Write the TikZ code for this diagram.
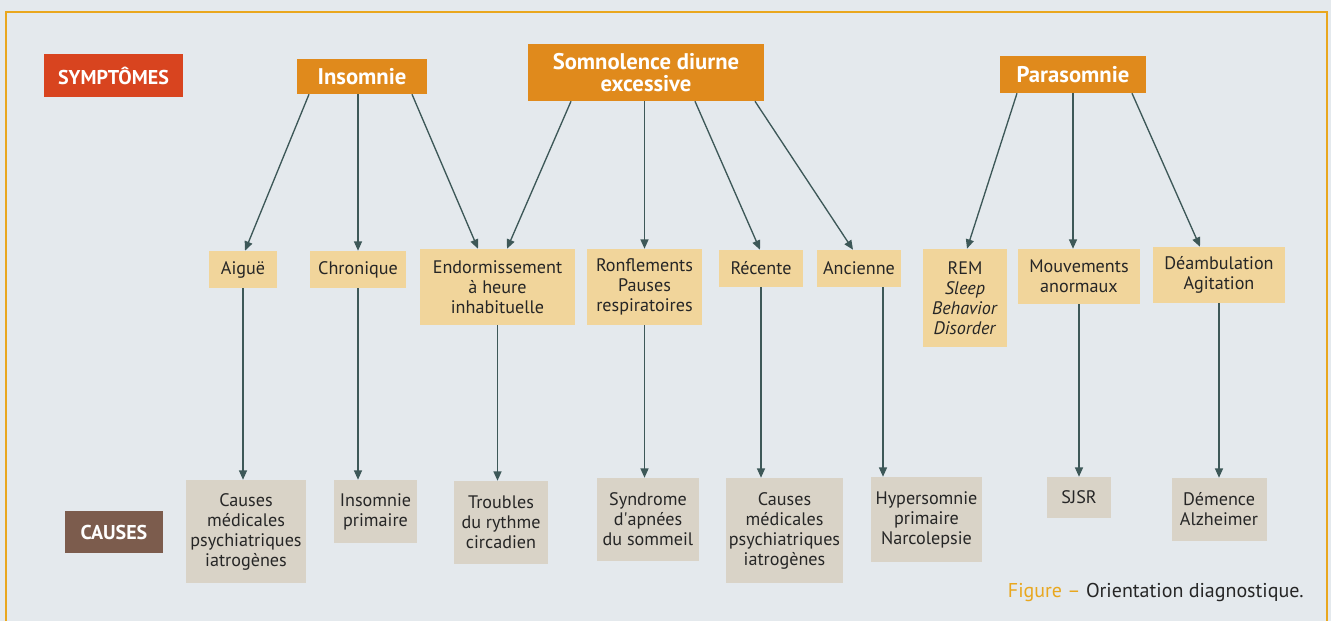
\documentclass[tikz,border=0pt]{standalone}
\usepackage{fontspec}
\setmainfont{PT Sans}
\usetikzlibrary{arrows.meta,calc}
\definecolor{pagebg}{HTML}{E4E9ED}
\definecolor{framey}{HTML}{E9A71E}
\definecolor{sympred}{HTML}{D8441F}
\definecolor{sympor}{HTML}{E08A1C}
\definecolor{signbg}{HTML}{F1D59B}
\definecolor{causebg}{HTML}{D9D3C7}
\definecolor{causebr}{HTML}{7C5C4D}
\definecolor{arrowc}{HTML}{3D5858}
\definecolor{inkc}{HTML}{262626}

\begin{document}
\begin{tikzpicture}[x=0.75pt,y=-0.75pt,
  boxsz/.style 2 args={minimum width=#1*0.75pt,minimum height=#2*0.75pt},
  head/.style={fill=sympor,text=white,inner sep=0pt,align=center,
    font=\fontsize{17}{17}\selectfont\bfseries},
  sign/.style={fill=signbg,text=inkc,inner sep=0pt,align=center,
    font=\fontsize{13.6}{15}\selectfont},
  cause/.style={sign,fill=causebg},
  tag/.style={inner sep=0pt,text=white,font=\fontsize{15}{15}\selectfont\bfseries},
  flow/.style={-{Triangle[length=7pt,width=6pt]},line width=1pt,draw=arrowc}
]
  \useasboundingbox (0,0) rectangle (1331,621);
  \fill[pagebg] (0,0) rectangle (1331,621);
  \draw[framey,line width=1.8pt] (6,621) -- (6,12) -- (1327,12) -- (1327,621);

  \node[tag,fill=sympred,boxsz={139}{43}] (symp) at (113.5,75.5) {SYMPTÔMES};
  \node[head,boxsz={130}{35}] (insom) at (362,76.5) {Insomnie};
  \node[head,boxsz={236}{57}] (somno) at (646,72.5) {Somnolence diurne\\excessive};
  \node[head,boxsz={146}{37}] (paras) at (1073,74.5) {Parasomnie};

  \node[sign,boxsz={68}{37}] (aigue) at (243,269.5) {Aiguë};
  \node[sign,boxsz={96}{37}] (chron) at (358,269.5) {Chronique};
  \node[sign,boxsz={155}{76}] (endor) at (497.5,287) {Endormissement\\à heure\\inhabituelle};
  \node[sign,boxsz={115}{76}] (ronfl) at (644.5,287) {Ronflements\\Pauses\\respiratoires};
  \node[sign,boxsz={84}{37}] (recen) at (761,268.5) {Récente};
  \node[sign,boxsz={84}{37}] (ancie) at (859,268.5) {Ancienne};
  \node[sign,boxsz={84}{98}] (rem) at (965,298) {REM\\\textit{Sleep}\\\textit{Behavior}\\\textit{Disorder}};
  \node[sign,boxsz={122}{55}] (mouve) at (1079,276.5) {Mouvements\\anormaux};
  \node[sign,boxsz={132}{56}] (deamb) at (1219,275) {Déambulation\\Agitation};

  \node[tag,fill=causebr,boxsz={98}{42}] (causes) at (114,532) {CAUSES};
  \node[cause,boxsz={120}{103}] (c-med1) at (246,531.5) {Causes\\médicales\\psychiatriques\\iatrogènes};
  \node[cause,boxsz={83}{63}] (c-prim) at (375.5,511.5) {Insomnie\\primaire};
  \node[cause,boxsz={94}{83}] (c-circ) at (501,522.5) {Troubles\\du rythme\\circadien};
  \node[cause,boxsz={102}{83}] (c-apnee) at (648,519.5) {Syndrome\\d\textquotesingle apnées\\du sommeil};
  \node[cause,boxsz={117}{105}] (c-med2) at (784.5,530.5) {Causes\\médicales\\psychiatriques\\iatrogènes};
  \node[cause,boxsz={111}{85}] (c-hyper) at (926.5,519.5) {Hypersomnie\\primaire\\Narcolepsie};
  \node[cause,boxsz={64}{41}] (c-sjsr) at (1079,497.5) {SJSR};
  \node[cause,boxsz={95}{63}] (c-dem) at (1219,509.5) {Démence\\Alzheimer};

  \node[anchor=east,text=inkc,inner sep=0pt,font=\fontsize{15}{15}\selectfont] (capt) at (1304,592)
    {\textcolor{framey}{Figure –} Orientation diagnostique.};

  \draw[flow] ($(insom.south)+(-53,0)$) -- ($(aigue.north)+(2,0)$);
  \draw[flow] (insom.south -| chron.north) -- (chron.north);
  \draw[flow] ($(insom.south)+(50,0)$) -- ($(endor.north)+(-19.5,0)$);
  \draw[flow] ($(somno.south)+(-75,0)$) -- ($(endor.north)+(9.5,0)$);
  \draw[flow] (somno.south -| ronfl.north) -- (ronfl.north);
  \draw[flow] ($(somno.south)+(49,0)$) -- ($(recen.north)+(-1,0)$);
  \draw[flow] ($(somno.south)+(109,0)$) -- ($(ancie.north)+(-6,0)$);
  \draw[flow] ($(paras.south)+(-56,0)$) -- ($(rem.north)+(2,0)$);
  \draw[flow] (paras.south) -- (paras.south |- mouve.north);
  \draw[flow] ($(paras.south)+(59,0)$) -- ($(deamb.north)+(-19,0)$);

  \foreach \src/\dst in {aigue/c-med1,chron/c-prim,endor/c-circ,ronfl/c-apnee,
      recen/c-med2,mouve/c-sjsr,deamb/c-dem}
    \draw[flow] (\src.south) -- (\src.south |- \dst.north);
  \coordinate (anc-r) at ($(ancie.south)+(24,0)$);
  \draw[flow] (anc-r) -- (anc-r |- c-hyper.north);
\end{tikzpicture}
\end{document}
